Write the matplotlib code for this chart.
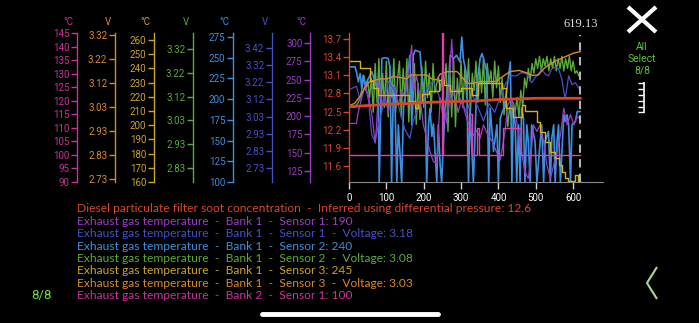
import numpy as np
import matplotlib.pyplot as plt
from matplotlib.lines import Line2D
import matplotlib.transforms as mtransforms

plt.rcParams['font.family'] = ['Roboto', 'DejaVu Sans']

# ---- readings (time in s) ----
soot_t = [0, 50, 100, 150, 200, 250, 300, 350, 400, 450, 500, 550, 619]
soot_v = [12.58, 12.60, 12.62, 12.63, 12.65, 12.66, 12.67, 12.68, 12.70, 12.71, 12.72, 12.72, 12.72]

# bank 1 sensor 1 temperature (purple)
s1_temp_t = [0, 20, 25, 34, 43, 52, 61, 70, 74, 79, 88, 96, 105, 114, 123, 132, 141, 150, 168, 172,
             181, 190, 199, 208, 217, 226, 235, 244, 252, 262, 275, 282, 292, 300, 308, 316, 324, 333, 342, 351,
             360, 370, 384, 395, 405, 418, 425, 435, 445, 454, 462, 471, 480, 485, 494, 503, 512, 521, 530, 539,
             548, 557, 566, 575, 584, 593, 602, 611, 619]
s1_temp_v = [190, 190, 206, 225, 243, 228, 203, 163, 188, 247, 215, 230, 205, 237, 240, 215, 236, 225, 297, 235,
             255, 225, 188, 170, 151, 138, 135, 225, 215, 190, 305, 233, 205, 220, 210, 195, 185, 174, 180, 170,
             188, 176, 165, 151, 140, 180, 215, 225, 206, 174, 151, 124, 115, 133, 188, 179, 188, 165, 133, 115,
             133, 151, 174, 211, 188, 202, 188, 199, 197]

# bank 1 sensor 1 voltage (dark blue)
s1_volt_t = [0, 20, 30, 43, 52, 61, 70, 79, 92, 105, 123, 137, 150, 163, 172, 186, 199, 212, 226, 240,
             255, 270, 285, 300, 315, 330, 345, 360, 375, 390, 405, 420, 435, 449, 462, 476, 489, 498, 507, 516,
             525, 534, 543, 552, 561, 570, 575, 579, 584, 588, 597, 606, 615, 619]
s1_volt_v = [3.18, 3.20, 3.12, 3.20, 3.12, 2.92, 2.88, 2.98, 3.09, 3.23, 3.17, 3.05, 2.95, 2.90, 3.00, 3.08, 3.13, 3.20, 3.23, 3.15,
             3.00, 3.10, 3.18, 3.12, 3.05, 3.15, 3.08, 3.00, 3.10, 3.05, 3.14, 3.22, 3.26, 3.26, 3.28, 3.27, 3.22, 3.25, 3.27, 3.30,
             3.27, 3.26, 3.30, 3.31, 3.30, 3.24, 3.17, 3.13, 3.20, 3.26, 3.21, 3.22, 3.19, 3.19]

# bank 1 sensor 2 temperature (blue)
s2_temp_t = [0, 16, 20, 25, 30, 34, 38, 43, 52, 61, 70, 78, 81, 85, 88, 96, 105, 110, 114, 119,
             123, 128, 132, 141, 146, 155, 163, 168, 172, 177, 190, 195, 204, 208, 213, 217, 222, 226, 235, 239,
             244, 248, 257, 266, 271, 280, 288, 297, 302, 306, 315, 320, 324, 329, 333, 342, 351, 356, 360, 369,
             374, 378, 387, 396, 400, 405, 414, 423, 432, 436, 440, 445, 449, 454, 458, 462, 467, 471, 476, 480,
             485, 489, 498, 503, 512, 516, 521, 525, 534, 539, 543, 548, 552, 557, 561, 566, 575, 579, 584, 588,
             593, 597, 606, 611, 619]
s2_temp_v = [239, 239, 233, 221, 231, 213, 229, 217, 225, 233, 221, 209, 100, 189, 249, 250, 249, 237, 100, 217,
             197, 100, 169, 100, 189, 221, 253, 169, 253, 259, 257, 229, 201, 100, 169, 189, 155, 170, 100, 169,
             121, 100, 189, 217, 253, 249, 253, 245, 275, 249, 229, 100, 189, 137, 100, 217, 249, 255, 249, 233,
             100, 189, 137, 169, 100, 177, 189, 213, 245, 100, 185, 169, 100, 169, 100, 189, 177, 100, 169, 149,
             100, 169, 149, 100, 149, 169, 100, 149, 161, 100, 153, 169, 100, 149, 169, 100, 181, 173, 181, 169,
             100, 169, 173, 185, 185]

# bank 1 sensor 2 voltage (green), one reading every 5 s
s2_volt_t = np.arange(0, 620, 5)
s2_volt_v = [3.08, 3.08, 3.08, 3.08, 3.09, 3.10, 3.12, 3.16, 3.21, 3.15,
             3.19, 3.12, 3.20, 3.06, 3.26, 3.10, 3.28, 3.05, 3.22, 3.08,
             3.27, 3.04, 3.25, 3.12, 3.28, 3.06, 3.20, 3.27, 3.04, 3.24,
             3.10, 3.28, 3.02, 3.22, 3.05, 3.26, 3.01, 3.18, 3.03, 3.25,
             3.08, 3.27, 3.12, 3.22, 3.06, 3.26, 3.14, 3.18, 3.20, 3.15,
             3.22, 3.17, 3.26, 2.98, 3.25, 3.04, 3.28, 3.00, 3.20, 3.10,
             3.27, 3.08, 3.24, 3.12, 3.28, 3.06, 3.22, 3.15, 3.27, 3.10,
             3.24, 3.14, 3.28, 3.09, 3.26, 3.18, 3.23, 3.12, 3.27, 3.16,
             3.25, 3.10, 3.20, 3.05, 3.12, 3.00, 3.08, 3.03, 3.10, 3.06,
             3.12, 3.04, 3.15, 3.08, 3.20, 3.16, 3.24, 3.19, 3.26, 3.22,
             3.28, 3.24, 3.29, 3.23, 3.28, 3.25, 3.29, 3.23, 3.28, 3.24,
             3.29, 3.23, 3.28, 3.24, 3.29, 3.23, 3.28, 3.24, 3.29, 3.23,
             3.27, 3.22, 3.23, 3.21]

# bank 1 sensor 3 temperature (yellow, stepped)
s3_temp_t = [0, 30, 56, 64, 78, 160, 176, 186, 196, 215, 240, 255, 270, 300, 330, 345, 410, 420, 440, 450,
             462, 470, 503, 512, 525, 538, 552, 561, 570, 579, 587, 606, 612, 619]
s3_temp_v = [245, 240, 231, 226, 221, 217, 212, 216, 222, 224, 232, 228, 224, 226, 221, 230, 226, 212, 206, 206,
             214, 210, 202, 195, 188, 181, 177, 172, 167, 163, 161, 165, 161, 161]

# bank 1 sensor 3 voltage (orange)
s3_volt_t = [0, 15, 30, 45, 56, 83, 101, 119, 140, 155, 164, 190, 208, 222, 235, 244, 265, 289, 298, 316,
             333, 351, 375, 396, 405, 431, 455, 476, 490, 507, 520, 534, 555, 579, 600, 619]
s3_volt_v = [3.03, 3.04, 3.07, 3.11, 3.13, 3.14, 3.14, 3.15, 3.145, 3.14, 3.156, 3.156, 3.156, 3.14, 3.136, 3.16, 3.17, 3.17, 3.156, 3.122,
             3.122, 3.129, 3.129, 3.13, 3.143, 3.17, 3.175, 3.165, 3.155, 3.156, 3.18, 3.197, 3.215, 3.231, 3.245, 3.252]

# bank 2 sensor 1 temperature (magenta, stepped)
b2_temp_t = [0, 248, 251, 315, 322, 329, 342, 349, 412, 461, 619]
b2_temp_v = [100, 145, 100, 110, 115, 100, 110, 100, 110, 100, 100]

# tick labels of the stacked y axes
b2_ticks = [90, 95, 100, 105, 110, 115, 120, 125, 130, 135, 140, 145]
s3_volt_labels = ['2.73', '2.83', '2.93', '3.03', '3.12', '3.22', '3.32']
s3_temp_ticks = [160, 170, 180, 190, 200, 210, 220, 230, 240, 250, 260]
s2_volt_labels = ['2.83', '2.93', '3.03', '3.12', '3.22', '3.32']
s2_temp_ticks = [100, 125, 150, 175, 200, 225, 250, 275]
s1_volt_labels = ['2.73', '2.83', '2.93', '3.03', '3.12', '3.22', '3.32', '3.42']
s1_temp_ticks = [125, 150, 175, 200, 225, 250, 275, 300]
soot_labels = ['11.6', '11.9', '12.2', '12.5', '12.8', '13.1', '13.4', '13.7']
x_ticks = [0, 100, 200, 300, 400, 500, 600]
cursor_t = 619.13

sep = '  -  '
legend_lines = [
    'Diesel particulate filter soot concentration' + sep + 'Inferred using differential pressure: 12.6',
    'Exhaust gas temperature' + sep + 'Bank 1' + sep + 'Sensor 1: 190',
    'Exhaust gas temperature' + sep + 'Bank 1' + sep + 'Sensor 1  -  Voltage: 3.18',
    'Exhaust gas temperature' + sep + 'Bank 1' + sep + 'Sensor 2: 240',
    'Exhaust gas temperature' + sep + 'Bank 1' + sep + 'Sensor 2  -  Voltage: 3.08',
    'Exhaust gas temperature' + sep + 'Bank 1' + sep + 'Sensor 3: 245',
    'Exhaust gas temperature' + sep + 'Bank 1' + sep + 'Sensor 3  -  Voltage: 3.03',
    'Exhaust gas temperature' + sep + 'Bank 2' + sep + 'Sensor 1: 100',
]

RED, PURPLE, DBLUE, BLUE = '#d9472b', '#9b3dc4', '#4650c8', '#3d8fe0'
GREEN, YELLOW, ORANGE, MAGENTA = '#5aab3c', '#c9a52a', '#d9892b', '#cc3399'
legend_colors = [RED, PURPLE, DBLUE, BLUE, GREEN, YELLOW, ORANGE, MAGENTA]

# ---- layout (pixels of a 699x323 canvas) ----
W, H = 699, 323
L, R, T, B = 349, 603, 33, 182
fig = plt.figure(figsize=(W / 100, H / 100), dpi=100, facecolor='black')
box = [L / W, 1 - B / H, (R - L) / W, (B - T) / H]


def stacked_axis(spine_x, color, ylim, ticks, labels, unit=None):
    ax = fig.add_axes(box, label='ax%d' % spine_x)
    ax.patch.set_visible(False)
    for side in ('top', 'right', 'bottom'):
        ax.spines[side].set_visible(False)
    off = (L - spine_x) / (R - L)
    ax.spines['left'].set_position(('axes', -off))
    ax.spines['left'].set_color(color)
    ax.spines['left'].set_linewidth(1)
    ax.set_xlim(0, 680)
    ax.set_ylim(ylim)
    ax.set_xticks([])
    ax.set_yticks(ticks, labels)
    ax.tick_params(axis='y', colors=color, length=4, width=1, pad=1.5, labelsize=7)
    if unit:
        ax.text(-off - 4 / (R - L), 1 + 11 / (B - T), unit, color=color, fontsize=7,
                ha='right', va='center', transform=ax.transAxes)
    return ax


ax = stacked_axis(193, GREEN, (2.7724, 3.3859), np.linspace(2.83, 3.32, 6), s2_volt_labels, 'V')
ax.plot(s2_volt_t, s2_volt_v, color=GREEN, lw=1.0)

ax = stacked_axis(233, BLUE, (100, 279.83), s2_temp_ticks, [str(v) for v in s2_temp_ticks], '°C')
ax.plot(s2_temp_t, s2_temp_v, color=BLUE, lw=1.2)

ax = stacked_axis(272, DBLUE, (2.6495, 3.5063), np.linspace(2.73, 3.42, 8), s1_volt_labels, 'V')
ax.plot(s1_volt_t, s1_volt_v, color=DBLUE, lw=0.9)

ax = stacked_axis(310, PURPLE, (109.96, 313.67), s1_temp_ticks, [str(v) for v in s1_temp_ticks], '°C')
ax.plot(s1_temp_t, s1_temp_v, color=PURPLE, lw=0.9)

ax = stacked_axis(115, ORANGE, (2.7177, 3.3282), np.linspace(2.73, 3.32, 7), s3_volt_labels, 'V')
ax.plot(s3_volt_t, s3_volt_v, color=ORANGE, lw=1.0)

ax = stacked_axis(154, YELLOW, (160, 264.93), s3_temp_ticks, [str(v) for v in s3_temp_ticks], '°C')
ax.plot(s3_temp_t, s3_temp_v, color='#d4b020', lw=1.0, drawstyle='steps-post')

ax = stacked_axis(77, MAGENTA, (90, 145), b2_ticks, [str(v) for v in b2_ticks], '°C')
ax.plot(b2_temp_t, b2_temp_v, color='#e040b0', lw=1.0, drawstyle='steps-post')

ax = stacked_axis(349, RED, (11.3354, 13.7992), np.linspace(11.6, 13.7, 8), soot_labels)
ax.plot(soot_t, soot_v, color=RED, lw=2.0)
ax.spines['bottom'].set_visible(True)
ax.spines['bottom'].set_color('#8a8a8a')
ax.set_xticks(x_ticks)
ax.tick_params(axis='x', colors='#d0d0d0', labelcolor='white', length=5, width=1, labelsize=7, pad=3)
ax.axvline(cursor_t, ymax=(B - 35) / (B - T), color='#b5b5b5', lw=1.5, dashes=(4, 3))
trans = mtransforms.blended_transform_factory(ax.transData, ax.transAxes)
ax.text(cursor_t, 1 + 9 / (B - T), '%.2f' % cursor_t, transform=trans, color='#dddddd',
        fontsize=9, family='Liberation Serif', ha='center', va='center')

# ---- legend text, sized so the first line spans the same width as on screen ----
legend_texts = []
for i, (line, col) in enumerate(zip(legend_lines, legend_colors)):
    legend_texts.append(fig.text(77 / W, 1 - (209 + 12.4 * i) / H, line, color=col, fontsize=8,
                                 family='Lato', ha='left', va='center'))
fig.canvas.draw()
width0 = legend_texts[0].get_window_extent().width
for t in legend_texts:
    t.set_fontsize(8 * 456 / width0)


# ---- screen furniture ----
def px(x, y):
    return x / W, 1 - y / H


def seg(points, color, lw, cap='butt'):
    xs, ys = zip(*[px(x, y) for x, y in points])
    fig.add_artist(Line2D(xs, ys, color=color, lw=lw, solid_capstyle=cap,
                          transform=fig.transFigure))


seg([(628, 7), (656, 32)], 'white', 3)
seg([(628, 32), (656, 7)], 'white', 3)
for k, word in enumerate(['All', 'Select', '8/8']):
    fig.text(*px(642, 47 + 12 * k), word, color='#5fc12f', fontsize=7.5, ha='center', va='center')
seg([(644, 82), (644, 113)], 'white', 1.2)
for yy in [83, 89, 95, 101, 107, 112]:
    seg([(638, yy), (644, yy)], 'white', 1.0)
fig.text(*px(42, 296), '8/8', color='#6ee03a', fontsize=9.5, ha='center', va='center')
seg([(657, 267), (647, 283), (657, 299)], '#a8d890', 1.5)
seg([(262, 314), (438, 314)], 'white', 3.5, cap='round')

fig.savefig('out.png', dpi=100, facecolor='black')
